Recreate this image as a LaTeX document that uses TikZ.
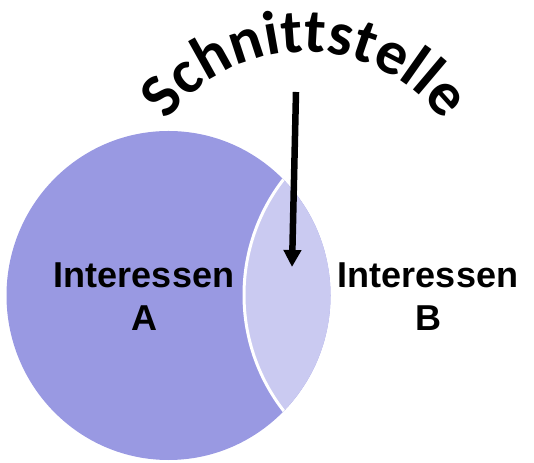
\documentclass[tikz,border=0pt]{standalone}
\usepackage{fontspec}
\setmainfont{Liberation Sans}
\newfontfamily\schfont{Carlito}[BoldFont={* Bold}]
\usetikzlibrary{decorations.text,arrows.meta}
\definecolor{circA}{HTML}{9999E2}
\definecolor{lensC}{HTML}{CACAF1}
\begin{document}
\begin{tikzpicture}[x=1pt,y=1pt,
  label/.style={font=\bfseries\fontsize{36}{43}\selectfont, align=center, inner sep=0pt, text=black},
  pointer/.style={line width=6.5pt, -{Triangle[width=17pt,length=17pt]}, black}]
\useasboundingbox (0,0) rectangle (534,462);
\coordinate (ca) at (168.5,166.5);
\coordinate (cb) at (433,167);
\coordinate (arc) at (305,238);
% circle A
\fill[circA] (ca) ellipse [x radius=162, y radius=164.5];
% lens
\begin{scope}
  \clip (ca) ellipse [x radius=162, y radius=164.5];
  \fill[lensC] (cb) circle (189);
  \draw[white, line width=3pt] (cb) circle (189);
\end{scope}
% curved title
\path[decorate, decoration={text along path, text align=center,
  text={|\schfont\bfseries\fontsize{62}{62}\selectfont|Schnittstelle}}]
  (arc) ++(160:172) arc (160:20:172);
% labels
\node[label] (la) at (144,165.5) {Interessen\\A};
\node[label] (lb) at (428,165.5) {Interessen\\B};
% arrow
\coordinate (as) at (296,370);
\coordinate (ae) at (292,195);
\draw[pointer] (as) -- (ae);
\end{tikzpicture}
\end{document}
